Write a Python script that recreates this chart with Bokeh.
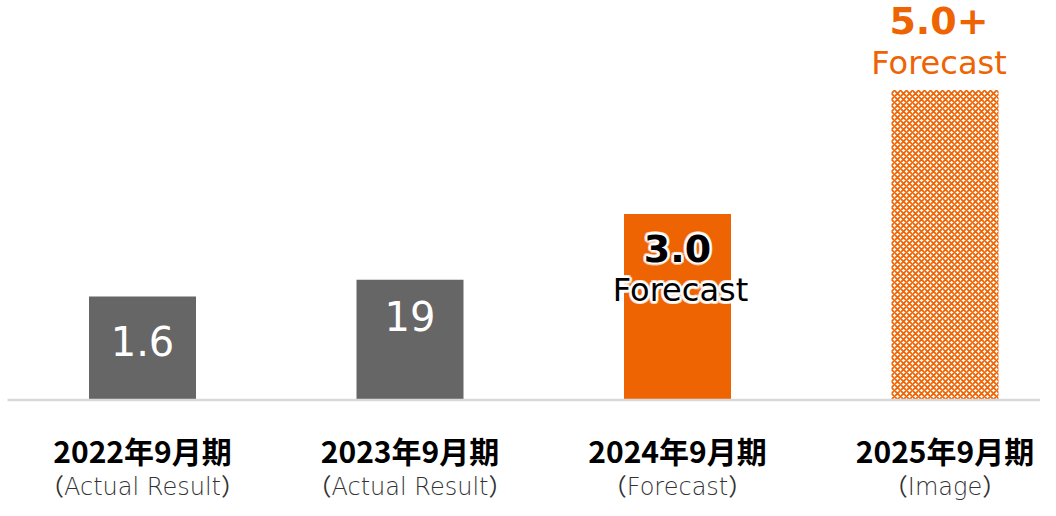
import math
from bokeh.plotting import figure
from bokeh.models import Range1d, ColumnDataSource
from bokeh.core.properties import value
from bokeh.embed import file_html
from bokeh.resources import INLINE

# ---- data ----
periods = ["2022年9月期", "2023年9月期", "2024年9月期", "2025年9月期"]
sublabels = ["（Actual Result）", "（Actual Result）", "（Forecast）", "（Image）"]
bar_values = [1.67, 1.94, 3.0, 5.0]
value_labels = ["1.6", "19", "3.0", "5.0+"]
bar_colors = ["#666666", "#666666", "#EE6302", "#FFFFFF"]
ORANGE = "#EE6302"

W, H = 1040, 500
PX_STEP = 267.5
X0 = 142.0
PX_PER_UNIT = 62.0
BASE = 100.5

p = figure(width=W, height=H, output_backend="svg", toolbar_location=None,
           min_border=0, outline_line_color=None)
p.x_range = Range1d(-X0 / PX_STEP, (W - X0) / PX_STEP)
p.y_range = Range1d(-BASE / PX_PER_UNIT, (H - BASE) / PX_PER_UNIT)
p.axis.visible = False
p.grid.visible = False
p.background_fill_color = "white"
p.border_fill_color = "white"

xs = list(range(len(periods)))
dy = lambda px: px / PX_PER_UNIT
dx = lambda px: px / PX_STEP

# solid bars (first three)
src = ColumnDataSource(dict(x=xs[:3], top=bar_values[:3], color=bar_colors[:3]))
p.vbar(x="x", top="top", bottom=0, width=0.4, fill_color="color", line_color=None, source=src)

# patterned bar (image)
p.vbar(x=[xs[3]], top=[bar_values[3]], bottom=0, width=0.4, fill_color="white",
       line_color=None, hatch_pattern="diagonal_cross", hatch_color=ORANGE,
       hatch_scale=6, hatch_weight=1.8)

# baseline
p.segment(x0=[-X0 / PX_STEP + dx(7)], x1=[(W - X0) / PX_STEP], y0=[0], y1=[0],
          line_color="#D9D9D9", line_width=2.5)

CJK = value("Noto Sans CJK JP")
LAT = value("DejaVu Sans")
SUB = value("'DejaVu Sans Light', 'Noto Sans CJK JP'")

# category labels
p.text(x=xs, y=[-dy(50)] * 4, text=periods, text_align="center", text_baseline="middle",
       text_font=CJK, text_font_style="bold", text_font_size="30px", text_color="#000000")
p.text(x=xs, y=[-dy(87)] * 4, text=sublabels, text_align="center", text_baseline="middle",
       text_font=SUB, text_font_size="24px", text_color="#333333")

# value labels inside gray bars
p.text(x=xs[:2], y=[bar_values[0] - dy(45), bar_values[1] - dy(36)], text=value_labels[:2],
       text_align="center", text_baseline="middle", text_font=LAT,
       text_font_size="40px", text_color="white")

# 2024 forecast labels (black with white glow)
glow = []
for r in (3.0, 1.8):
    for k in range(12):
        a = 2 * math.pi * k / 12
        glow.append((r * math.cos(a), r * math.sin(a)))
for ox, oy in glow:
    p.text(x=[xs[2] + dx(ox)], y=[bar_values[2] - dy(34) + dy(oy)], text=[value_labels[2]],
           text_align="center", text_baseline="middle", text_font=LAT,
           text_font_style="bold", text_font_size="38px", text_color="white", text_alpha=0.55)
    p.text(x=[xs[2] + dx(3) + dx(ox)], y=[bar_values[2] - dy(76) + dy(oy)], text=["Forecast"],
           text_align="center", text_baseline="middle", text_font=LAT,
           text_font_size="32px", text_color="white", text_alpha=0.55)
p.text(x=[xs[2]], y=[bar_values[2] - dy(34)], text=[value_labels[2]],
       text_align="center", text_baseline="middle", text_font=LAT,
       text_font_style="bold", text_font_size="38px", text_color="#000000")
p.text(x=[xs[2] + dx(3)], y=[bar_values[2] - dy(76)], text=["Forecast"],
       text_align="center", text_baseline="middle", text_font=LAT,
       text_font_size="32px", text_color="#000000")

# 2025 labels above bar
p.text(x=[xs[3] - dx(6)], y=[bar_values[3] + dy(70)], text=[value_labels[3]],
       text_align="center", text_baseline="middle", text_font=LAT,
       text_font_style="bold", text_font_size="38px", text_color=ORANGE)
p.text(x=[xs[3] - dx(6)], y=[bar_values[3] + dy(27)], text=["Forecast"],
       text_align="center", text_baseline="middle", text_font=LAT,
       text_font_size="32px", text_color=ORANGE)

open("out.html", "w").write(file_html(p, INLINE))
